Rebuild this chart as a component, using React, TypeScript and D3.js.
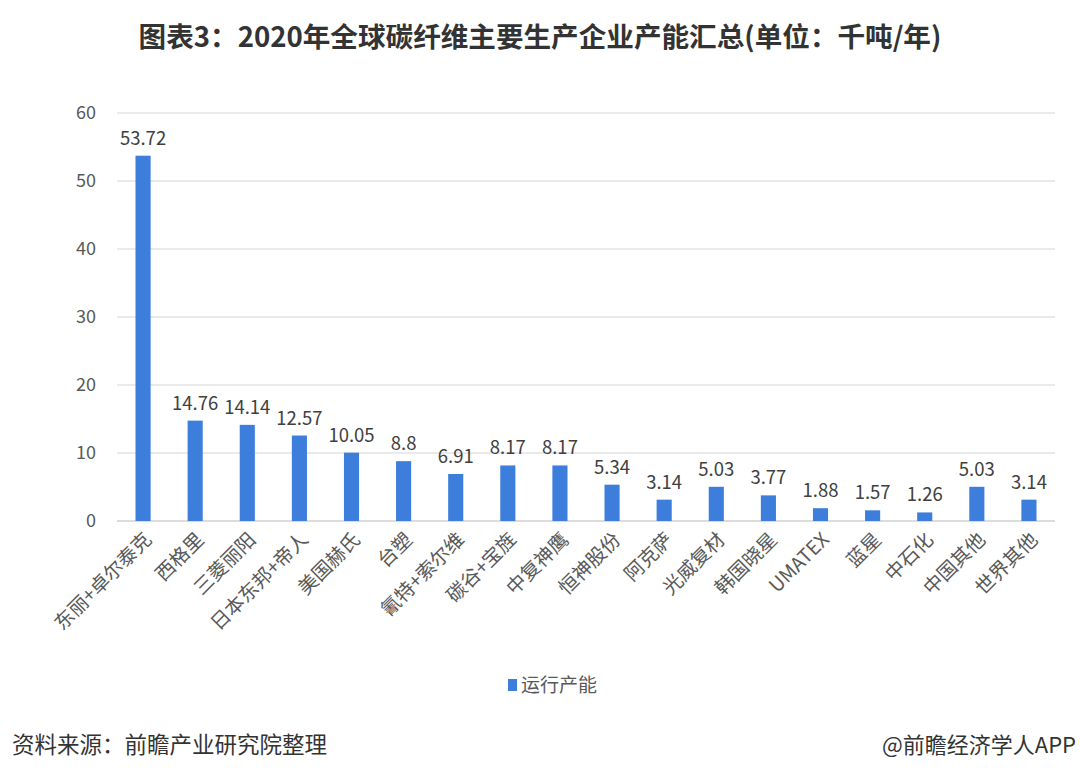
import * as d3 from 'd3';
import React from 'react';

const categories = [
  "东丽+卓尔泰克", "西格里", "三菱丽阳", "日本东邦+帝人", "美国赫氏", "台塑",
  "氰特+索尔维", "碳谷+宝旌", "中复神鹰", "恒神股份", "阿克萨", "光威复材",
  "韩国晓星", "UMATEX", "蓝星", "中石化", "中国其他", "世界其他",
];
const capacity = [53.72, 14.76, 14.14, 12.57, 10.05, 8.8, 6.91, 8.17, 8.17, 5.34, 3.14, 5.03, 3.77, 1.88, 1.57, 1.26, 5.03, 3.14];
const yTicks = [0, 10, 20, 30, 40, 50, 60];

const FONT = "'Noto Sans CJK SC', 'Noto Sans', sans-serif";

function App(): any {
  const width = 1080;
  const height = 780;
  const margin = { top: 113, right: 25, bottom: 259, left: 117 };

  const x = d3.scaleBand()
    .domain(categories)
    .range([margin.left, width - margin.right])
    .paddingInner(0.71)
    .paddingOuter(0.355);

  const y = d3.scaleLinear()
    .domain([0, 60])
    .range([height - margin.bottom, margin.top]);

  return (
    <svg width={width} height={height} style={{ position: "absolute", left: 0, top: 0, background: "#fff" }}>
      <text x={540} y={47} textAnchor="middle" fontFamily={FONT} fontWeight="bold" fontSize={27.6} fill="#333">
        图表3：2020年全球碳纤维主要生产企业产能汇总(单位：千吨/年)
      </text>

      {yTicks.map((t) => (
        <g key={t}>
          <line x1={margin.left} x2={width - margin.right} y1={y(t)} y2={y(t)}
            stroke={t === 0 ? "#d0d0d0" : "#e3e3e3"} strokeWidth={1.3} />
          <text x={96} y={y(t)} dy="0.35em" textAnchor="end" fontFamily={FONT} fontSize={18} fill="#595959">{t}</text>
        </g>
      ))}

      {categories.map((c, i) => {
        const cx = (x(c) || 0) + x.bandwidth() / 2;
        return (
          <g key={c}>
            <rect x={x(c)} y={y(capacity[i])} width={x.bandwidth()} height={y(0) - y(capacity[i])} fill="#3d7ddb" />
            <text x={cx} y={y(capacity[i]) - 11} textAnchor="middle" fontFamily={FONT} fontSize={18.5} fill="#404040">
              {capacity[i]}
            </text>
            <text transform={`translate(${cx + 5},${y(0) + 15}) rotate(-45)`} textAnchor="end" dy="0.35em"
              fontFamily={FONT} fontSize={19.5} fill="#595959">{c}</text>
          </g>
        );
      })}

      <rect x={508} y={679} width={9} height={12} fill="#3d7ddb" />
      <text x={521} y={685} dy="0.35em" fontFamily={FONT} fontSize={19} fill="#595959">运行产能</text>

      <text x={12} y={745} dy="0.35em" fontFamily={FONT} fontSize={22.5} fill="#333">资料来源：前瞻产业研究院整理</text>
      <text x={1076} y={745} dy="0.35em" textAnchor="end" fontFamily={FONT} fontSize={22} fill="#333">@前瞻经济学人APP</text>
    </svg>
  );
}

export default App;
